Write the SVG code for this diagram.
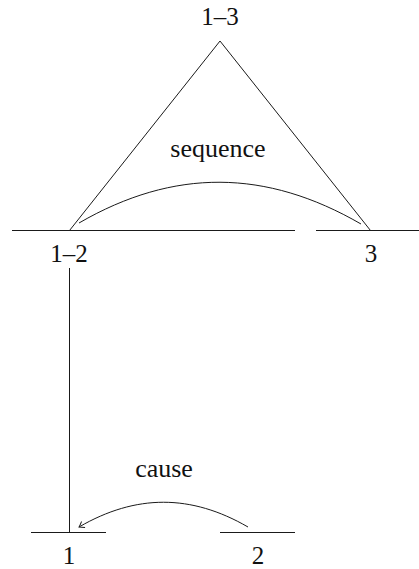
<svg xmlns="http://www.w3.org/2000/svg" width="419" height="569" viewBox="0 0 419 569">
  <style>
    .ln { stroke: #1a1a1a; stroke-width: 1; fill: none; }
    .lbl { font-family: "Liberation Serif", "DejaVu Serif", serif; font-size: 25px; fill: #111; text-anchor: middle; }
    .rel { font-family: "Liberation Serif", "DejaVu Serif", serif; font-size: 26px; fill: #111; text-anchor: middle; }
  </style>
  <defs>
    <marker id="to" viewBox="-6 -5 8 10" markerWidth="8" markerHeight="10" refX="0" refY="0" orient="auto" markerUnits="userSpaceOnUse">
      <path d="M -5 -3.5 Q -1.5 -0.8 0 0 Q -1.5 0.8 -5 3.5" stroke="#1a1a1a" stroke-width="0.9" fill="none"/>
    </marker>
  </defs>
  <rect width="419" height="569" fill="#fff"/>

  <g id="node-1-3">
    <text class="lbl" x="220" y="25">1–3</text>
  </g>
  <g id="node-1-2">
    <line class="ln" x1="12" y1="230.5" x2="295" y2="230.5"/>
    <text class="lbl" x="69" y="262">1–2</text>
  </g>
  <g id="node-3">
    <line class="ln" x1="316" y1="230.5" x2="419" y2="230.5"/>
    <text class="lbl" x="371" y="262">3</text>
  </g>
  <g id="node-1">
    <line class="ln" x1="31" y1="532.5" x2="106" y2="532.5"/>
    <text class="lbl" x="69" y="564">1</text>
  </g>
  <g id="node-2">
    <line class="ln" x1="220" y1="532.5" x2="295" y2="532.5"/>
    <text class="lbl" x="258" y="564">2</text>
  </g>

  <g id="connectors">
    <polyline class="ln" points="69.5,230.5 220,41 370.5,230.5"/>
    <path class="ln" d="M 79 223 C 174 168 266 169 361 224"/>
    <text class="rel" x="218" y="157">sequence</text>
    <line class="ln" x1="69.5" y1="268" x2="69.5" y2="532.5"/>
    <path class="ln" d="M 248 527 C 191 494 136 494 79 527" marker-end="url(#to)"/>
    <text class="rel" x="164" y="477">cause</text>
  </g>
</svg>
